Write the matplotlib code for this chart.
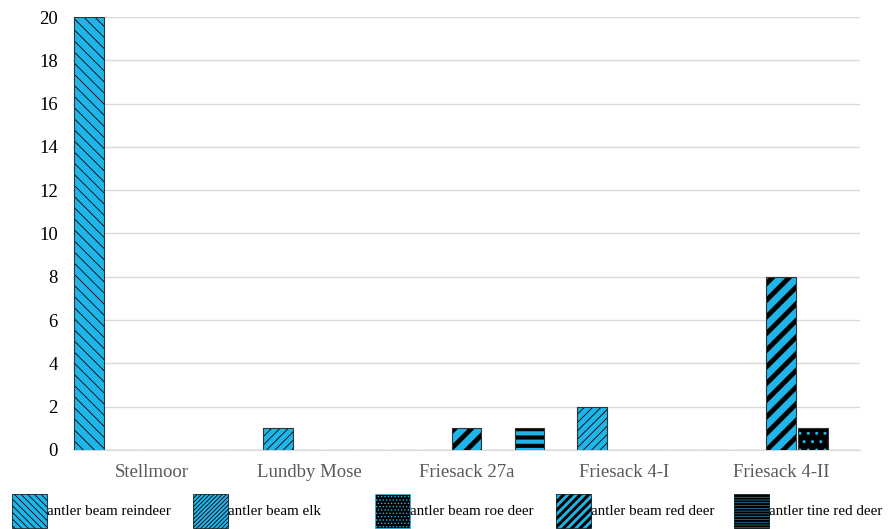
import numpy as np
import matplotlib.pyplot as plt
from matplotlib.patches import Patch

# sites and counts per antler type
sites = ['Stellmoor', 'Lundby Mose', 'Friesack 27a', 'Friesack 4-I', 'Friesack 4-II']
reindeer_beam = [20, 0, 0, 0, 0]
elk_beam = [0, 1, 0, 2, 0]
red_deer_beam = [0, 0, 1, 0, 8]
roe_deer_beam = [0, 0, 0, 0, 1]
red_deer_tine = [0, 0, 1, 0, 0]

cyan = '#1FB5E9'
plt.rcParams['font.family'] = ['Liberation Serif', 'DejaVu Serif']

fig = plt.figure(figsize=(8.9, 5.29), dpi=100)
ax = fig.add_axes([73/890, 1-450/529, (860-73)/890, (450-17)/529])

x = np.arange(len(sites))
w = 0.19
step = 0.2

def draw(vals, off, face, hcol, hatch, hlw):
    with plt.rc_context({'hatch.linewidth': hlw, 'hatch.color': hcol}):
        b = ax.bar(x + off, vals, w, color=face, edgecolor=hcol, hatch=hatch,
                   linewidth=0, zorder=3)
    ax.bar(x + off, vals, w, fill=False, edgecolor='#333333', linewidth=0.8, zorder=4)
    return b

draw(reindeer_beam, -2*step, cyan, 'black', '\\\\\\', 0.6)
draw(elk_beam, -step, cyan, 'black', '////', 0.6)
draw(red_deer_beam, 0, cyan, 'black', '//', 3.5)
draw(roe_deer_beam, step, 'black', cyan, '..', 1.0)
draw(red_deer_tine, 2*step, cyan, 'black', '--', 3.0)

ax.set_xlim(-0.5, 4.5)
ax.set_ylim(0, 20)
ax.set_yticks(range(0, 21, 2))
ax.set_xticks(x)
ax.set_xticklabels(sites, color='#595959', fontsize=13.5)
ax.tick_params(axis='x', length=0, pad=10)
ax.tick_params(axis='y', length=0, pad=11, labelsize=13.5)
ax.grid(axis='y', color='#d9d9d9', linewidth=1, zorder=0)
for s in ['top', 'right', 'left']:
    ax.spines[s].set_visible(False)
ax.spines['bottom'].set_color('#d9d9d9')

# legend, one entry per box so the spacing matches
specs = [('antler beam reindeer', cyan, 'black', '\\\\\\\\\\', 0.6),
         ('antler beam elk', cyan, 'black', '////////', 0.6),
         ('antler beam roe deer', 'black', cyan, '.....', 0.6),
         ('antler beam red deer', cyan, 'black', '////', 2.2),
         ('antler tine red deer', cyan, 'black', '------', 1.6)]
leg_x = [12, 193, 375, 556, 734]
for (lab, face, hcol, hatch, hlw), lx in zip(specs, leg_x):
    with plt.rc_context({'hatch.linewidth': hlw, 'hatch.color': hcol}):
        h = Patch(facecolor=face, edgecolor=hcol, hatch=hatch, linewidth=0.5, label=lab)
        leg = fig.legend(handles=[h], loc='lower left', bbox_to_anchor=(lx/890, 1/529),
                         frameon=False, fontsize=10.8, handlelength=2.35, handleheight=3.1,
                         handletextpad=0.0, borderpad=0, borderaxespad=0)
    for p in leg.get_patches():
        if hasattr(p, 'set_hatch_linewidth'):
            p.set_hatch_linewidth(hlw)

fig.savefig('out.png', dpi=100)
